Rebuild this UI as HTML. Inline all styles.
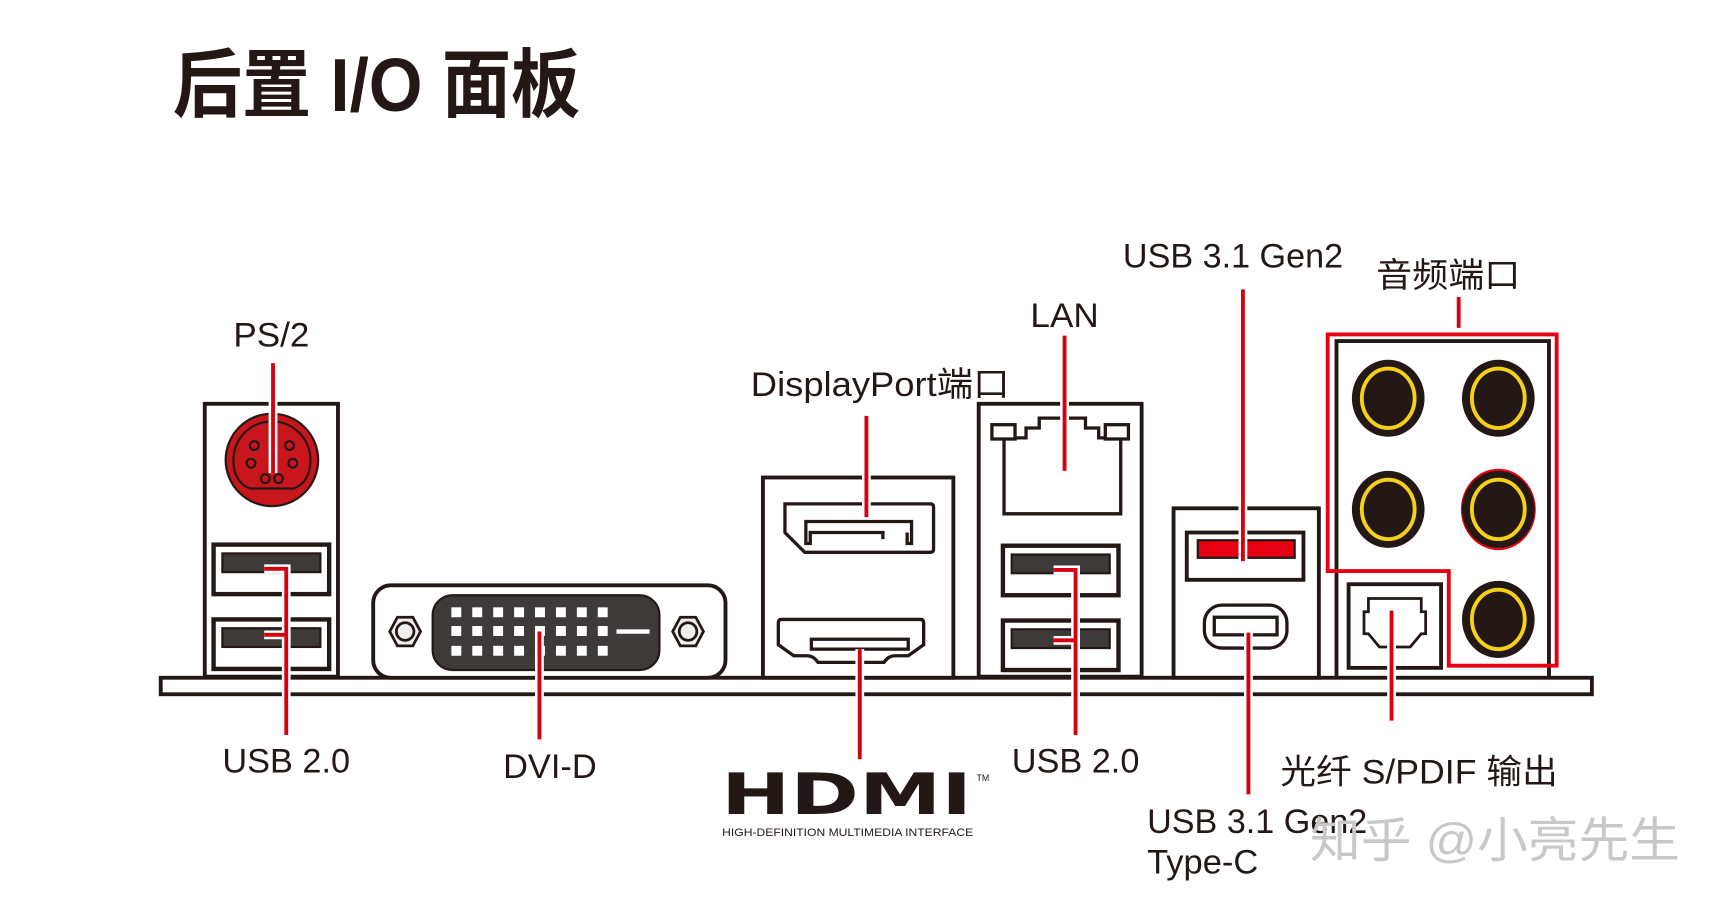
<!DOCTYPE html>
<html><head><meta charset="utf-8"><style>
html,body{margin:0;padding:0;background:#fff;width:1724px;height:911px;overflow:hidden}
svg{display:block}
text{font-family:"Liberation Sans","Noto Sans CJK SC",sans-serif;fill:#231815}
</style></head><body>
<svg width="1724" height="911" viewBox="0 0 1566 828" preserveAspectRatio="none" xmlns="http://www.w3.org/2000/svg">
<defs>
<g id="usb"><rect x="0" y="0" width="105" height="45" fill="#fff" stroke="#231815" stroke-width="4"/><rect x="8" y="8" width="89" height="17" fill="#3e3a39" stroke="#231815" stroke-width="2"/></g>
<g id="jack"><ellipse cx="0" cy="0" rx="33" ry="35" fill="#231815"/><ellipse cx="0" cy="0" rx="24" ry="27" fill="none" stroke="#f7d117" stroke-width="3.5"/></g>
</defs>
<text x="157" y="101" font-size="68" font-weight="bold" textLength="370" lengthAdjust="spacingAndGlyphs">后置 I/O 面板</text>

<rect x="146" y="616" width="1300" height="15" fill="#fff" stroke="#231815" stroke-width="3.5"/>

<rect x="186" y="367" width="121" height="248" fill="#fff" stroke="#231815" stroke-width="3.5"/>
<circle cx="247" cy="418" r="42" fill="#c9161d" stroke="#231815" stroke-width="2"/>
<path d="M212 418 a35 35 0 0 1 70 0 q0 20 -15 26 h-40 q-15 -6 -15 -26z" fill="none" stroke="#231815" stroke-width="2"/>
<g fill="none" stroke="#231815" stroke-width="2"><circle cx="231" cy="405" r="4"/><circle cx="263" cy="405" r="4"/><circle cx="228" cy="421" r="4"/><circle cx="266" cy="421" r="4"/><circle cx="241" cy="435" r="4"/><circle cx="253" cy="435" r="4"/></g>
<use href="#usb" x="194" y="495"/>
<use href="#usb" x="194" y="563"/>

<rect x="339" y="532" width="320" height="84" rx="16" fill="#fff" stroke="#231815" stroke-width="3.5"/>
<rect x="393" y="541" width="206" height="68" rx="18" fill="#3e3a39" stroke="#231815" stroke-width="2"/>
<g fill="#fff">
<rect x="410" y="552" width="9" height="9"/><rect x="429" y="552" width="9" height="9"/><rect x="448" y="552" width="9" height="9"/><rect x="467" y="552" width="9" height="9"/><rect x="486" y="552" width="9" height="9"/><rect x="505" y="552" width="9" height="9"/><rect x="524" y="552" width="9" height="9"/><rect x="543" y="552" width="9" height="9"/>
<rect x="410" y="569" width="9" height="9"/><rect x="429" y="569" width="9" height="9"/><rect x="448" y="569" width="9" height="9"/><rect x="467" y="569" width="9" height="9"/><rect x="486" y="569" width="9" height="9"/><rect x="505" y="569" width="9" height="9"/><rect x="524" y="569" width="9" height="9"/><rect x="543" y="569" width="9" height="9"/>
<rect x="410" y="587" width="9" height="9"/><rect x="429" y="587" width="9" height="9"/><rect x="448" y="587" width="9" height="9"/><rect x="467" y="587" width="9" height="9"/><rect x="486" y="587" width="9" height="9"/><rect x="505" y="587" width="9" height="9"/><rect x="524" y="587" width="9" height="9"/><rect x="543" y="587" width="9" height="9"/>
<rect x="560" y="572" width="30" height="4"/></g>
<g fill="#efefef" stroke="#231815" stroke-width="2.5"><polygon points="354,574 361,561 375,561 382,574 375,587 361,587"/><polygon points="611,574 618,561 632,561 639,574 632,587 618,587"/></g>
<g fill="none" stroke="#231815" stroke-width="2.5"><circle cx="368" cy="574" r="8"/><circle cx="625" cy="574" r="8"/></g>

<rect x="693" y="434" width="173" height="182" fill="#fff" stroke="#231815" stroke-width="3.5"/>
<path d="M713 458 h132 q3 0 3 3 v38 q0 3 -3 3 h-114 l-18 -18 z" fill="#fff" stroke="#231815" stroke-width="3"/>
<path d="M802 490 v-6 h-66 v10 h-4 v-20 h96 v20 h-4 v-10" fill="#fff" stroke="#231815" stroke-width="3"/>
<path d="M722 563 h114 q3 0 3 3 v20 l-14 10 h-12 q-6 0 -10 6 h-60 q-4 -6 -10 -6 h-12 l-14 -10 v-20 q0 -3 3 -3z" fill="#fff" stroke="#231815" stroke-width="3"/>
<rect x="737" y="581" width="88" height="9" fill="#fff" stroke="#231815" stroke-width="3"/>

<rect x="889" y="367" width="148" height="248" fill="#fff" stroke="#231815" stroke-width="3.5"/>
<path d="M912 467 v-69 h20 v-9 h12 v-9 h42 v9 h12 v9 h20 v69 z" fill="#fff" stroke="#231815" stroke-width="3"/>
<rect x="901" y="386" width="21" height="13" fill="#fff" stroke="#231815" stroke-width="3"/>
<rect x="1004" y="386" width="21" height="13" fill="#fff" stroke="#231815" stroke-width="3"/>
<use href="#usb" x="911" y="496"/>
<use href="#usb" x="911" y="564"/>

<rect x="1066" y="462" width="132" height="154" fill="#fff" stroke="#231815" stroke-width="3.5"/>
<rect x="1078" y="484" width="106" height="43" fill="#fff" stroke="#231815" stroke-width="3.5"/>
<rect x="1088" y="491" width="88" height="16" fill="#e60012" stroke="#231815" stroke-width="2"/>
<rect x="1094" y="550" width="75" height="39" rx="16" fill="#fff" stroke="#231815" stroke-width="3"/>
<rect x="1103" y="561" width="57" height="16" fill="#fff" stroke="#231815" stroke-width="3"/>

<polyline points="1214,615 1214,310 1407,310 1407,615" fill="none" stroke="#231815" stroke-width="3.5"/>
<rect x="1225" y="531" width="84" height="76" fill="#fff" stroke="#231815" stroke-width="3.5"/>
<path d="M1243 544 h48 v12 h4 v20 h-4 l-10 12 h-28 l-10 -12 h-4 v-20 h4z" fill="#fff" stroke="#231815" stroke-width="2.5"/>
<use href="#jack" x="1261" y="362"/><use href="#jack" x="1361" y="362"/>
<use href="#jack" x="1261" y="463"/>
<ellipse cx="1361" cy="463" rx="34" ry="37" fill="#e60012"/>
<use href="#jack" x="1361" y="463"/>
<use href="#jack" x="1361" y="563"/>
<polygon points="1206,304 1414,304 1414,605 1316,605 1316,519 1206,519" fill="none" stroke="#e60012" stroke-width="3.5"/>

<g stroke="#fff" stroke-width="8" fill="none">
<path d="M248 330 V430"/><path d="M240 517 H260 V668 M240 577 H260"/><path d="M490 574 V672"/><path d="M787 378 V470"/><path d="M781 590 V690"/><path d="M967 305 V428"/><path d="M957 518 H977 V668 M957 582 H977"/><path d="M1129 263 V510"/><path d="M1134 575 V722"/><path d="M1264 555 V655"/><path d="M1325 270 V300"/>
</g>
<g stroke="#d7000f" stroke-width="3.5" fill="none">
<path d="M248 330 V430"/><path d="M240 517 H260 V668 M240 577 H260"/><path d="M490 574 V672"/><path d="M787 378 V470"/><path d="M781 590 V690"/><path d="M967 305 V428"/><path d="M957 518 H977 V668 M957 582 H977"/><path d="M1129 263 V510"/><path d="M1134 575 V722"/><path d="M1264 555 V655"/><path d="M1325 270 V298"/>
</g>

<g font-size="31">
<text x="212" y="315" textLength="69" lengthAdjust="spacingAndGlyphs">PS/2</text>
<text x="202" y="702" textLength="116" lengthAdjust="spacingAndGlyphs">USB 2.0</text>
<text x="457" y="707" textLength="85" lengthAdjust="spacingAndGlyphs">DVI-D</text>
<text x="682" y="360" textLength="235" lengthAdjust="spacingAndGlyphs">DisplayPort端口</text>
<text x="936" y="297" textLength="62" lengthAdjust="spacingAndGlyphs">LAN</text>
<text x="919" y="702" textLength="116" lengthAdjust="spacingAndGlyphs">USB 2.0</text>
<text x="1020" y="243" textLength="200" lengthAdjust="spacingAndGlyphs">USB 3.1 Gen2</text>
<text x="1250" y="261" textLength="131" lengthAdjust="spacingAndGlyphs">音频端口</text>
<text x="1163" y="712" textLength="252" lengthAdjust="spacingAndGlyphs">光纤 S/PDIF 输出</text>
<text x="1042" y="757" textLength="200" lengthAdjust="spacingAndGlyphs">USB 3.1 Gen2</text>
<text x="1042" y="794" textLength="101" lengthAdjust="spacingAndGlyphs">Type-C</text>
</g>
<text x="655" y="740" font-size="52" font-weight="bold" textLength="228" lengthAdjust="spacingAndGlyphs" style="font-family:'DejaVu Sans','Liberation Sans',sans-serif">HDMI</text>
<text x="887" y="710" font-size="8">TM</text>
<text x="656" y="760" font-size="10" textLength="228" lengthAdjust="spacingAndGlyphs">HIGH-DEFINITION MULTIMEDIA INTERFACE</text>
<text x="1190" y="779" font-size="44" style="fill:#c8c8c8" textLength="336" lengthAdjust="spacingAndGlyphs">知乎 @小亮先生</text>
</svg>
</body></html>
